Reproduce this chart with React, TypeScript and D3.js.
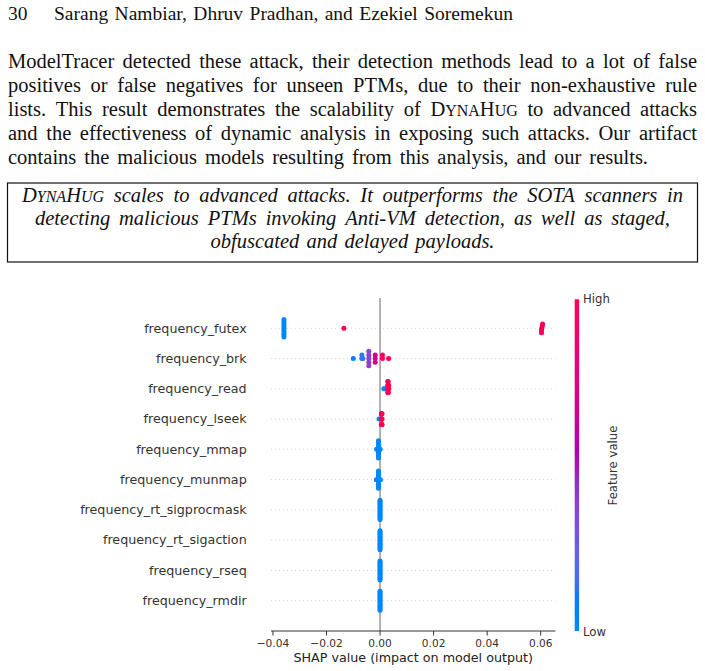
import React, { useMemo } from "react";
import * as d3 from "d3";

// ---------- page text ----------
const headerNumber = "30";
const headerAuthors = "Sarang Nambiar, Dhruv Pradhan, and Ezekiel Soremekun";

// Words wrapped in {} are set in small capitals.
const paragraphLines = [
  "ModelTracer detected these attack, their detection methods lead to a lot of false",
  "positives or false negatives for unseen PTMs, due to their non-exhaustive rule",
  "lists. This result demonstrates the scalability of D{yna}H{ug} to advanced attacks",
  "and the effectiveness of dynamic analysis in exposing such attacks. Our artifact",
  "contains the malicious models resulting from this analysis, and our results.",
];
const paragraphWidths = [689, 689, 689, 689, 640];

const boxLines = [
  "D{yna}H{ug} scales to advanced attacks. It outperforms the SOTA scanners in",
  "detecting malicious PTMs invoking Anti-VM detection, as well as staged,",
  "obfuscated and delayed payloads.",
];
const boxLineWidths = [661, 635, 284];

// ---------- chart data ----------
const features = [
  "frequency_futex",
  "frequency_brk",
  "frequency_read",
  "frequency_lseek",
  "frequency_mmap",
  "frequency_munmap",
  "frequency_rt_sigprocmask",
  "frequency_rt_sigaction",
  "frequency_rseq",
  "frequency_rmdir",
];

const futexShap = [-0.0359, -0.0359, -0.0359, -0.0359, -0.0359, -0.0359, -0.0359, -0.0359, -0.0359, -0.0135, 0.0604, 0.0606, 0.0603, 0.0607, 0.0603];
const futexValue = [0, 0, 0, 0, 0, 0, 0, 0, 0, 1, 1, 1, 1, 1, 1];

const brkShap = [-0.01, -0.0068, -0.0068, -0.0064, -0.0042, -0.0042, -0.0042, -0.0042, -0.0042, -0.0018, -0.0018, -0.0018, 0.0009, 0.0009, 0.0032];
const brkValue = [0.04, 0.1, 0.12, 0.14, 0.36, 0.38, 0.4, 0.37, 0.39, 0.66, 0.68, 0.7, 0.9, 0.92, 1];

const readShap = [0.0014, 0.0017, 0.0029, 0.0029, 0.0029, 0.0029, 0.003, 0.003, 0.003, 0.003, 0.0031, 0.0031, 0.0031, 0.0032, 0.0032];
const readValue = [0, 0, 1, 1, 1, 1, 1, 1, 1, 1, 1, 1, 1, 1, 1];

const lseekShap = [-0.0004, 0.0005, 0.0005, 0.0005, 0.00055, 0.00055, 0.0006, 0.0006, 0.0006, 0.00065, 0.00065, 0.00065, 0.0007, 0.0007, 0.0007];
const lseekValue = [0, 1, 1, 1, 1, 1, 1, 1, 1, 1, 1, 1, 1, 1, 1];

const mmapShap = [-0.0013, -0.001, -0.0008, -0.0006, -0.0006, -0.0006, -0.0006, -0.0006, -0.0006, -0.0006, -0.0006, -0.0006, -0.0003, -0.0001, 0];
const mmapValue = [0, 0, 0, 0, 0, 0, 0, 0, 0, 0, 0, 0, 0, 0, 0];

const munmapShap = [-0.0014, -0.0011, -0.0006, -0.0006, -0.0006, -0.0006, -0.0006, -0.0006, -0.0006, -0.0006, -0.0006, -0.0004, -0.0002, 0, 0.0001];
const munmapValue = [0, 0, 0, 0, 0, 0, 0, 0, 0, 0, 0, 0, 0, 0, 0];

const sigprocmaskShap = [0, 0, 0, 0, 0, 0, 0, 0, 0, 0, 0, 0, 0, 0, 0];
const sigprocmaskValue = [0, 0, 0, 0, 0, 0, 0, 0, 0, 0, 0, 0, 0, 0, 0];

const sigactionShap = [0, 0, 0, 0, 0, 0, 0, 0, 0, 0, 0, 0, 0, 0, 0];
const sigactionValue = [0, 0, 0, 0, 0, 0, 0, 0, 0, 0, 0, 0, 0, 0, 0];

const rseqShap = [0, 0, 0, 0, 0, 0, 0, 0, 0, 0, 0, 0, 0, 0, 0];
const rseqValue = [0, 0, 0, 0, 0, 0, 0, 0, 0, 0, 0, 0, 0, 0, 0];

const rmdirShap = [0, 0, 0, 0, 0, 0, 0, 0, 0, 0, 0, 0, 0, 0, 0];
const rmdirValue = [0, 0, 0, 0, 0, 0, 0, 0, 0, 0, 0, 0, 0, 0, 0];

const shapByFeature = [futexShap, brkShap, readShap, lseekShap, mmapShap, munmapShap, sigprocmaskShap, sigactionShap, rseqShap, rmdirShap];
const valueByFeature = [futexValue, brkValue, readValue, lseekValue, mmapValue, munmapValue, sigprocmaskValue, sigactionValue, rseqValue, rmdirValue];

const xTicks = [-0.04, -0.02, 0, 0.02, 0.04, 0.06];
const xLabel = "SHAP value (impact on model output)";
const colorbarLabel = "Feature value";

// ---------- layout ----------
const W = 705;
const H = 671;
const plotLeft = 271;
const plotRight = 555.5;
const plotTop = 298;
const plotBottom = 631;
const rowHeight = 0.4;
const SERIF = '"Liberation Serif", "Times New Roman", serif';
const SANS = '"DejaVu Sans", sans-serif';
const SC = 0.78;

// red/blue colour map interpolated in LCh
function featureColor(t: number): string {
  const hBlue = 4.6588;
  const hRed = 0.35470565 + 2 * Math.PI;
  const l = t < 0.5 ? 54 + (40 - 54) * (t / 0.5) : 40 + (54 - 40) * ((t - 0.5) / 0.5);
  const c = 70 + 20 * t;
  const h = ((hBlue + t * (hRed - hBlue)) * 180) / Math.PI;
  return d3.hcl(h, c, l).formatHex();
}

// beeswarm offsets: values are binned and stacked alternately above and below the row
function swarmOffsets(values: number[]): number[] {
  const n = values.length;
  const nbins = 100;
  const lo = d3.min(values)!;
  const hi = d3.max(values)!;
  const quant = values.map((v) => Math.round((nbins * (v - lo)) / (hi - lo + 1e-8)));
  const order = d3.range(n).sort((a, b) => quant[a] - quant[b] || a - b);
  const ys = new Array(n).fill(0);
  let layer = 0;
  let lastBin = -1;
  for (const i of order) {
    if (quant[i] !== lastBin) layer = 0;
    ys[i] = Math.ceil(layer / 2) * ((layer % 2) * 2 - 1);
    layer += 1;
    lastBin = quant[i];
  }
  const m = d3.max(ys.map((y) => y + 1))!;
  return ys.map((y) => (y * 0.9 * rowHeight) / m);
}

type Seg = { text: string; small: boolean };
function parseWord(w: string): Seg[] {
  return w
    .split(/(\{[^}]*\})/)
    .filter((s) => s.length > 0)
    .map((s) => (s.startsWith("{") ? { text: s.slice(1, -1).toUpperCase(), small: true } : { text: s, small: false }));
}

let ctxCache: CanvasRenderingContext2D | null = null;
function measure(text: string, size: number, italic: boolean): number {
  if (!ctxCache) ctxCache = document.createElement("canvas").getContext("2d");
  const ctx = ctxCache!;
  ctx.font = `${italic ? "italic " : ""}${size}px ${SERIF}`;
  return ctx.measureText(text).width;
}

function layoutLine(line: string, x0: number, width: number, size: number, italic: boolean) {
  const words = line.split(" ");
  const widths = words.map((w) =>
    d3.sum(parseWord(w), (s) => measure(s.text, s.small ? size * SC : size, italic))
  );
  const gap = words.length > 1 ? (width - d3.sum(widths)) / (words.length - 1) : 0;
  let x = x0;
  return words.map((w, i) => {
    const r = { word: w, x };
    x += widths[i] + gap;
    return r;
  });
}

function Word({ word, x, y, size, italic }: { word: string; x: number; y: number; size: number; italic: boolean }) {
  return (
    <text x={x} y={y} fontFamily={SERIF} fontSize={size} fontStyle={italic ? "italic" : "normal"} fill="#111">
      {parseWord(word).map((s, i) => (
        <tspan key={i} fontSize={s.small ? size * SC : size}>
          {s.text}
        </tspan>
      ))}
    </text>
  );
}

export default function App() {
  const x = d3.scaleLinear().domain([-0.04073, 0.06553]).range([plotLeft, plotRight]);
  const y = d3.scaleLinear().domain([-1, features.length]).range([plotBottom, plotTop]);
  const fmt = d3.format(".2f");

  const rows = useMemo(
    () =>
      features.map((name, i) => {
        const pos = features.length - 1 - i;
        const shaps = shapByFeature[i];
        const vals = valueByFeature[i];
        const offs = swarmOffsets(shaps);
        return { name, pos, points: shaps.map((s, j) => ({ s, v: vals[j], dy: offs[j] })) };
      }),
    []
  );

  const paraBaselines = [68, 92, 116, 140, 164];
  const boxBaselines = [202, 225, 248];
  const textSize = 20.5;
  const headSize = 19.5;

  const cbX = 574.7;
  const cbW = 4.4;
  const gradStops = d3.range(0, 1.0001, 0.05);

  return (
    <svg width={W} height={H} style={{ position: "absolute", left: 0, top: 0, background: "#fff" }}>
      <rect width={W} height={H} fill="#fff" />
      {/* running head */}
      <text x={8} y={20} fontFamily={SERIF} fontSize={headSize} fill="#111">
        {headerNumber}
      </text>
      {layoutLine(headerAuthors, 54, 459, headSize, false).map((w, i) => (
        <Word key={i} word={w.word} x={w.x} y={20} size={headSize} italic={false} />
      ))}

      {/* body paragraph */}
      {paragraphLines.map((line, li) =>
        layoutLine(line, 8, paragraphWidths[li], textSize, false).map((w, i) => (
          <Word key={`${li}-${i}`} word={w.word} x={w.x} y={paraBaselines[li]} size={textSize} italic={false} />
        ))
      )}

      {/* framed summary */}
      <rect x={7.5} y={183} width={690} height={79} fill="none" stroke="#111" strokeWidth={1.2} />
      {boxLines.map((line, li) =>
        layoutLine(line, 352.5 - boxLineWidths[li] / 2, boxLineWidths[li], textSize, true).map((w, i) => (
          <Word key={`b${li}-${i}`} word={w.word} x={w.x} y={boxBaselines[li]} size={textSize} italic={true} />
        ))
      )}

      {/* ---- SHAP summary plot ---- */}
      <defs>
        <linearGradient id="fvGrad" x1="0" y1="1" x2="0" y2="0">
          {gradStops.map((t, i) => (
            <stop key={i} offset={t} stopColor={featureColor(t)} />
          ))}
        </linearGradient>
      </defs>

      {/* row guides */}
      {rows.map((r) => (
        <line
          key={`g${r.name}`}
          x1={plotLeft}
          x2={plotRight}
          y1={y(r.pos)}
          y2={y(r.pos)}
          stroke="#cccccc"
          strokeWidth={0.8}
          strokeDasharray="1 3"
        />
      ))}
      {/* zero line */}
      <line x1={x(0)} x2={x(0)} y1={plotTop} y2={plotBottom} stroke="#999999" strokeWidth={1.5} />

      {/* points */}
      {rows.map((r) =>
        r.points.map((p, j) => (
          <circle key={`${r.name}-${j}`} cx={x(p.s)} cy={y(r.pos + p.dy)} r={2.5} fill={featureColor(p.v)} />
        ))
      )}

      {/* feature labels */}
      {rows.map((r) => (
        <text
          key={`l${r.name}`}
          x={246.7}
          y={y(r.pos) + 4.3}
          textAnchor="end"
          fontFamily={SANS}
          fontSize={12.7}
          fill="#333"
        >
          {r.name}
        </text>
      ))}

      {/* x axis */}
      <line x1={plotLeft} x2={plotRight} y1={plotBottom} y2={plotBottom} stroke="#333" strokeWidth={1} />
      {xTicks.map((t) => (
        <g key={t}>
          <line x1={x(t)} x2={x(t)} y1={plotBottom} y2={plotBottom + 4.5} stroke="#333" strokeWidth={1} />
          <text x={x(t)} y={646.7} textAnchor="middle" fontFamily={SANS} fontSize={10.6} fill="#333">
            {fmt(t)}
          </text>
        </g>
      ))}
      <text x={(plotLeft + plotRight) / 2} y={662} textAnchor="middle" fontFamily={SANS} fontSize={12.7} fill="#222">
        {xLabel}
      </text>

      {/* colour bar */}
      <rect x={cbX} y={299.3} width={cbW} height={631 - 299.3} fill="url(#fvGrad)" />
      <text x={583} y={303} fontFamily={SANS} fontSize={11.7} fill="#333">
        High
      </text>
      <text x={583} y={635.5} fontFamily={SANS} fontSize={11.7} fill="#333">
        Low
      </text>
      <text
        transform={`translate(616.5, 465.5) rotate(-90)`}
        textAnchor="middle"
        fontFamily={SANS}
        fontSize={11.7}
        fill="#333"
      >
        {colorbarLabel}
      </text>
    </svg>
  );
}
